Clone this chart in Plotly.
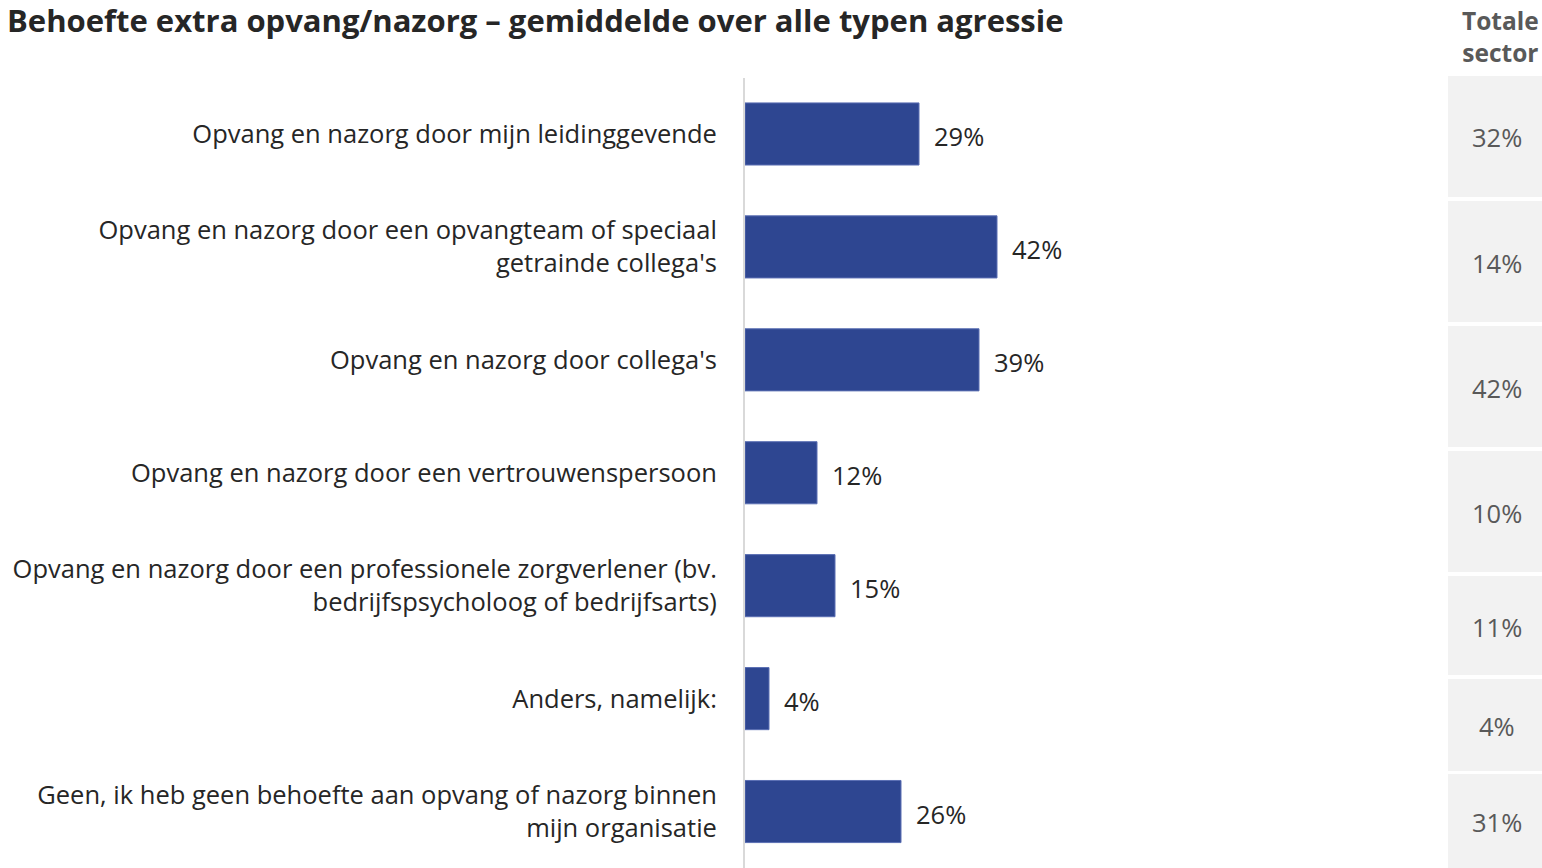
import plotly.graph_objects as go

W, H = 1542, 868

title = "Behoefte extra opvang/nazorg – gemiddelde over alle typen agressie"
categories = [
    "Opvang en nazorg door mijn leidinggevende",
    "Opvang en nazorg door een opvangteam of speciaal<br>getrainde collega's",
    "Opvang en nazorg door collega's",
    "Opvang en nazorg door een vertrouwenspersoon",
    "Opvang en nazorg door een professionele zorgverlener (bv.<br>bedrijfspsycholoog of bedrijfsarts)",
    "Anders, namelijk:",
    "Geen, ik heb geen behoefte aan opvang of nazorg binnen<br>mijn organisatie",
]
values = [29, 42, 39, 12, 15, 4, 26]
sector_header = "Totale<br>sector"
sector_values = [32, 14, 42, 10, 11, 4, 31]

# layout constants (pixel positions of the sector boxes)
box_px = [(76, 197), (201, 322), (326, 447), (451, 572), (576, 675), (679, 771), (774, 868)]
box_x = (1448, 1542)

BAR = "#2E4691"
FONT = "Open Sans"
LBL = 25.5

def px_x(p):
    return p / W

def px_y(p):
    return 1 - p / H

x0_px = 745
x_per = 6.0
xmax = 100
x1_px = x0_px + x_per * xmax

fig = go.Figure()
fig.add_trace(go.Bar(
    x=values, y=categories, orientation="h",
    marker=dict(color=BAR, line=dict(color="#5B6FB3", width=1)),
    hoverinfo="skip",
))

annotations = []
for c, v in zip(categories, values):
    annotations.append(dict(
        x=v, y=c, xref="x", yref="y", text=f"{v}%", showarrow=False,
        xanchor="left", yanchor="middle", xshift=13, yshift=-2,
        font=dict(family=FONT, size=LBL, color="#262626"),
    ))

annotations.append(dict(
    x=px_x(6), y=1, xref="paper", yref="paper", text=f"<b>{title}</b>",
    showarrow=False, xanchor="left", yanchor="top", yshift=2, borderpad=0,
    font=dict(family=FONT, size=31, color="#262626"),
))
annotations.append(dict(
    x=px_x(1500), y=px_y(36), xref="paper", yref="paper", text=f"<b>{sector_header}</b>",
    showarrow=False, xanchor="center", yanchor="middle",
    font=dict(family=FONT, size=24.5, color="#595959"),
))

shapes = []
for (t, b), sv in zip(box_px, sector_values):
    shapes.append(dict(
        type="rect", xref="paper", yref="paper",
        x0=px_x(box_x[0]), x1=px_x(box_x[1]), y0=px_y(b), y1=px_y(t),
        fillcolor="#F2F2F2", line=dict(width=0), layer="below",
    ))
    annotations.append(dict(
        x=px_x(1497), y=px_y((t + b) / 2 + 1), xref="paper", yref="paper", text=f"{sv}%",
        showarrow=False, xanchor="center", yanchor="middle",
        font=dict(family=FONT, size=LBL, color="#595959"),
    ))

fig.update_layout(
    width=W, height=H,
    margin=dict(l=0, r=0, t=0, b=0),
    paper_bgcolor="white", plot_bgcolor="white",
    showlegend=False,
    bargap=0.45,
    xaxis=dict(domain=[px_x(x0_px), px_x(x1_px)], range=[0, xmax], visible=False, fixedrange=True),
    yaxis=dict(
        domain=[0, px_y(77.5)], autorange="reversed", showgrid=False, zeroline=False,
        showline=True, linecolor="#D9D9D9", linewidth=2, ticks="",
        ticklabelstandoff=21, fixedrange=True,
        tickfont=dict(family=FONT, size=LBL, color="#262626"),
    ),
    annotations=annotations, shapes=shapes,
)

fig.write_html(
    "out.html",
    config={"displayModeBar": False},
    post_script="document.body.style.margin='0';document.body.style.overflow='hidden';",
)
